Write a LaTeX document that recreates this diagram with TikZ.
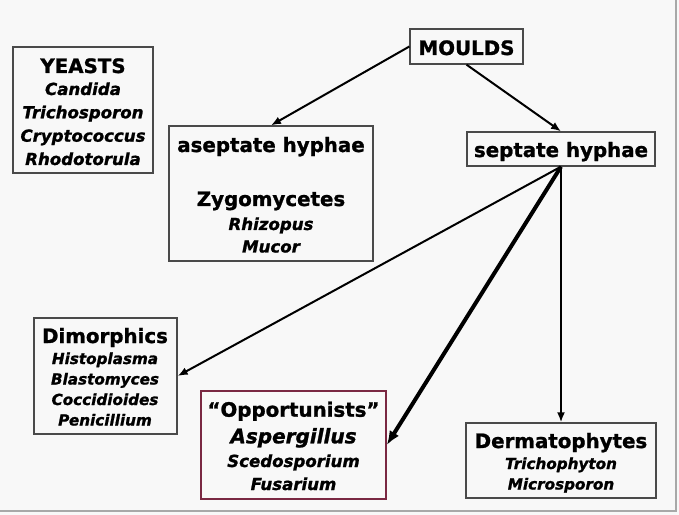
\documentclass[tikz,border=0pt]{standalone}
\usepackage{fontspec}
\setmainfont{DejaVu Sans}[BoldFeatures={FakeBold=1.2},BoldItalicFeatures={FakeBold=1.2}]
\usetikzlibrary{arrows.meta}
\definecolor{bgc}{HTML}{F8F8F8}
\definecolor{boxgray}{HTML}{4A4A4A}
\definecolor{maroon}{HTML}{7A2842}
\definecolor{frameg}{HTML}{A8A8A8}
\tikzset{
  box/.style={draw=boxgray, line width=1.3bp, fill=bgc, inner sep=0pt},
  oppbox/.style={draw=maroon, line width=1.6bp, fill=bgc, inner sep=0pt},
  ttl/.style={anchor=base, inner sep=0pt, font=\fontsize{19.8bp}{23bp}\selectfont\bfseries},
  sub/.style={anchor=base, inner sep=0pt, font=\fontsize{16.6bp}{20bp}\selectfont\bfseries\itshape},
  subsm/.style={anchor=base, inner sep=0pt, font=\fontsize{15.2bp}{18bp}\selectfont\bfseries\itshape},
  subbig/.style={anchor=base, inner sep=0pt, font=\fontsize{20bp}{23bp}\selectfont\bfseries\itshape},
  conn/.style={line width=2bp, -{Latex[length=10bp,width=8bp]}},
  thickconn/.style={line width=4bp, -{Latex[length=14bp,width=11bp]}},
}
\begin{document}
\begin{tikzpicture}[x=1bp,y=-1bp]
\useasboundingbox (0,0) rectangle (679,515);
\fill[bgc] (0,0) rectangle (679,515);
\draw[frameg, line width=1.2bp] (0,511) -- (676,511) -- (676,0);

% boxes
\node[box, minimum width=140bp, minimum height=126bp] (yeasts) at (83,110) {};
\node[box, minimum width=113bp, minimum height=35bp] (moulds) at (466.5,46.5) {};
\node[box, minimum width=204bp, minimum height=135bp] (aseptate) at (271,193.5) {};
\node[box, minimum width=188bp, minimum height=34bp] (septate) at (561,149) {};
\node[box, minimum width=143bp, minimum height=116bp] (dimorph) at (105.5,376) {};
\node[oppbox, minimum width=185bp, minimum height=108bp] (opport) at (293.5,445) {};
\node[box, minimum width=190bp, minimum height=75bp] (dermato) at (561,460.5) {};

% texts
\node[ttl] (tY) at (83,73) {YEASTS};
\node[sub] (tY1) at (83,95) {Candida};
\node[sub] (tY2) at (83,118.3) {Trichosporon};
\node[sub] (tY3) at (83,141.7) {Cryptococcus};
\node[sub] (tY4) at (83,165) {Rhodotorula};

\node[ttl] (tM) at (466.5,55) {MOULDS};

\node[ttl] (tA) at (271,152) {aseptate hyphae};
\node[ttl] (tA2) at (271,206) {Zygomycetes};
\node[sub] (tA3) at (271,230) {Rhizopus};
\node[sub] (tA4) at (271,252.5) {Mucor};

\node[ttl] (tS) at (561,157) {septate hyphae};

\node[ttl] (tD) at (105,343) {Dimorphics};
\node[subsm] (tD1) at (105,364) {Histoplasma};
\node[subsm] (tD2) at (105,384.5) {Blastomyces};
\node[subsm] (tD3) at (105,405) {Coccidioides};
\node[subsm] (tD4) at (105,425.5) {Penicillium};

\node[ttl] (tO) at (293.5,416.7) {“Opportunists”};
\node[subbig] (tO1) at (293.5,443.3) {Aspergillus};
\node[sub] (tO2) at (293.5,467) {Scedosporium};
\node[sub] (tO3) at (293.5,490) {Fusarium};

\node[ttl] (tR) at (561,448) {Dermatophytes};
\node[subsm] (tR1) at (561,469) {Trichophyton};
\node[subsm] (tR2) at (561,489.5) {Microsporon};

% connectors
\draw[conn] (moulds.west) -- (aseptate.north);
\draw[conn] (moulds.south) -- (septate.north);
\draw[conn] (septate.south) -- (dimorph.east);
\draw[thickconn] (septate.south) -- (opport.east);
\draw[conn] (septate.south) -- (dermato.north);
\end{tikzpicture}
\end{document}
